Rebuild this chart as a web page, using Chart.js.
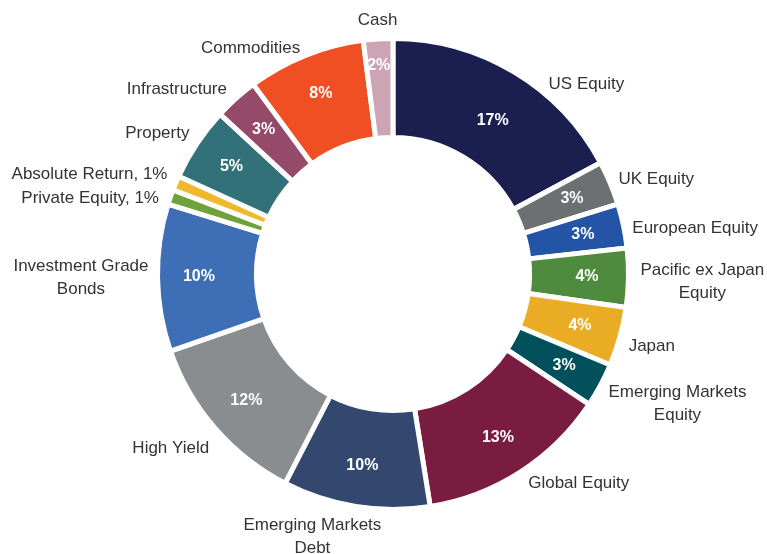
<!DOCTYPE html>
<html>
<head>
<meta charset="utf-8">
<script src="https://cdn.jsdelivr.net/npm/chart.js@4"></script>
<style>
  html, body { margin: 0; padding: 0; background: #fff; }
  #wrap { width: 767px; height: 554px; }
</style>
</head>
<body>
<div id="wrap"><canvas id="allocChart"></canvas></div>
<script>
const categories = [
    'US Equity', 'UK Equity', 'European Equity', ['Pacific ex Japan', 'Equity'], 'Japan',
    ['Emerging Markets', 'Equity'], 'Global Equity', ['Emerging Markets', 'Debt'], 'High Yield',
    ['Investment Grade', 'Bonds'], 'Private Equity, 1%', 'Absolute Return, 1%', 'Property',
    'Infrastructure', 'Commodities', 'Cash'
];
const weights = [17, 3, 3, 4, 4, 3, 13, 10, 12, 10, 1, 1, 5, 3, 8, 2];
const valueLabels = ['17%', '3%', '3%', '4%', '4%', '3%', '13%', '10%', '12%', '10%', '', '', '5%', '3%', '8%', '2%'];
const colours = [
    '#1b1f50', '#6d7073', '#2454a6', '#4e8b3f', '#ebac25', '#02505b', '#7a1c3f', '#34476f',
    '#898d90', '#3e6eb5', '#6ea33c', '#f0b92d', '#33717a', '#954a69', '#f04f23', '#cca4b3'
];

// hand nudges where the original labels sit off the plain rule
const labelNudge = {
    0: [30, 20], 2: [0, 4], 3: [3, 4], 4: [0, 7], 5: [0, 14], 6: [3, 4],
    7: [-42, -2], 8: [1, 14], 10: [-3, 4], 11: [0, -5], 12: [0, -5], 13: [-3, -2], 14: [-2, 1], 15: [0, 2]
};
const valueNudge = { 0: [0, 13], 15: [-2, -15] };

const outsideLabels = {
    id: 'outsideLabels',
    afterDatasetsDraw(chart) {
        const ctx = chart.ctx;
        const arcs = chart.getDatasetMeta(0).data;
        ctx.save();
        arcs.forEach((arc, i) => {
            const p = arc.getProps(['x', 'y', 'startAngle', 'endAngle', 'innerRadius', 'outerRadius'], true);
            const mid = (p.startAngle + p.endAngle) / 2;
            // value inside the ring
            if (valueLabels[i]) {
                const rIn = (p.innerRadius + p.outerRadius) / 2 + 8;
                const vn = valueNudge[i] || [0, 0];
                ctx.font = 'bold 16px "Liberation Sans", Arial, sans-serif';
                ctx.fillStyle = '#ffffff';
                ctx.textAlign = 'center';
                ctx.textBaseline = 'middle';
                ctx.fillText(valueLabels[i], p.x + Math.cos(mid) * rIn + vn[0], p.y + Math.sin(mid) * rIn + vn[1]);
            }
            // category outside
            const r = p.outerRadius + 9;
            const nudge = labelNudge[i] || [0, 0];
            let x = p.x + Math.cos(mid) * r + nudge[0];
            let y = p.y + Math.sin(mid) * r + nudge[1];
            const deg = ((mid + Math.PI / 2) * 180 / Math.PI + 360) % 360;
            const lines = Array.isArray(categories[i]) ? categories[i] : [categories[i]];
            const lh = 23;
            ctx.font = '17px "Liberation Sans", Arial, sans-serif';
            ctx.fillStyle = '#333333';
            ctx.textBaseline = 'middle';
            ctx.textAlign = 'center';
            let top;
            if (deg < 12 || deg > 348) {
                top = y - lines.length * lh + lh / 2;
            } else if (deg > 168 && deg < 192) {
                top = y + lh / 2;
            } else {
                const w = Math.max(...lines.map(l => ctx.measureText(l).width));
                x = deg < 180 ? x + w / 2 : x - w / 2;
                top = y - (lines.length - 1) * lh / 2;
            }
            lines.forEach((l, k) => ctx.fillText(l, x, top + k * lh));
        });
        ctx.restore();
    }
};

new Chart(document.getElementById('allocChart').getContext('2d'), {
    type: 'doughnut',
    data: {
        labels: categories,
        datasets: [{
            data: weights,
            backgroundColor: colours,
            borderColor: '#ffffff',
            borderWidth: 5
        }]
    },
    options: {
        responsive: true,
        maintainAspectRatio: false,
        animation: false,
        cutout: '58%',
        layout: { padding: { left: 25, right: 6, top: 36, bottom: 42 } },
        plugins: {
            legend: { display: false },
            tooltip: { enabled: false }
        }
    },
    plugins: [outsideLabels]
});
</script>
</body>
</html>
